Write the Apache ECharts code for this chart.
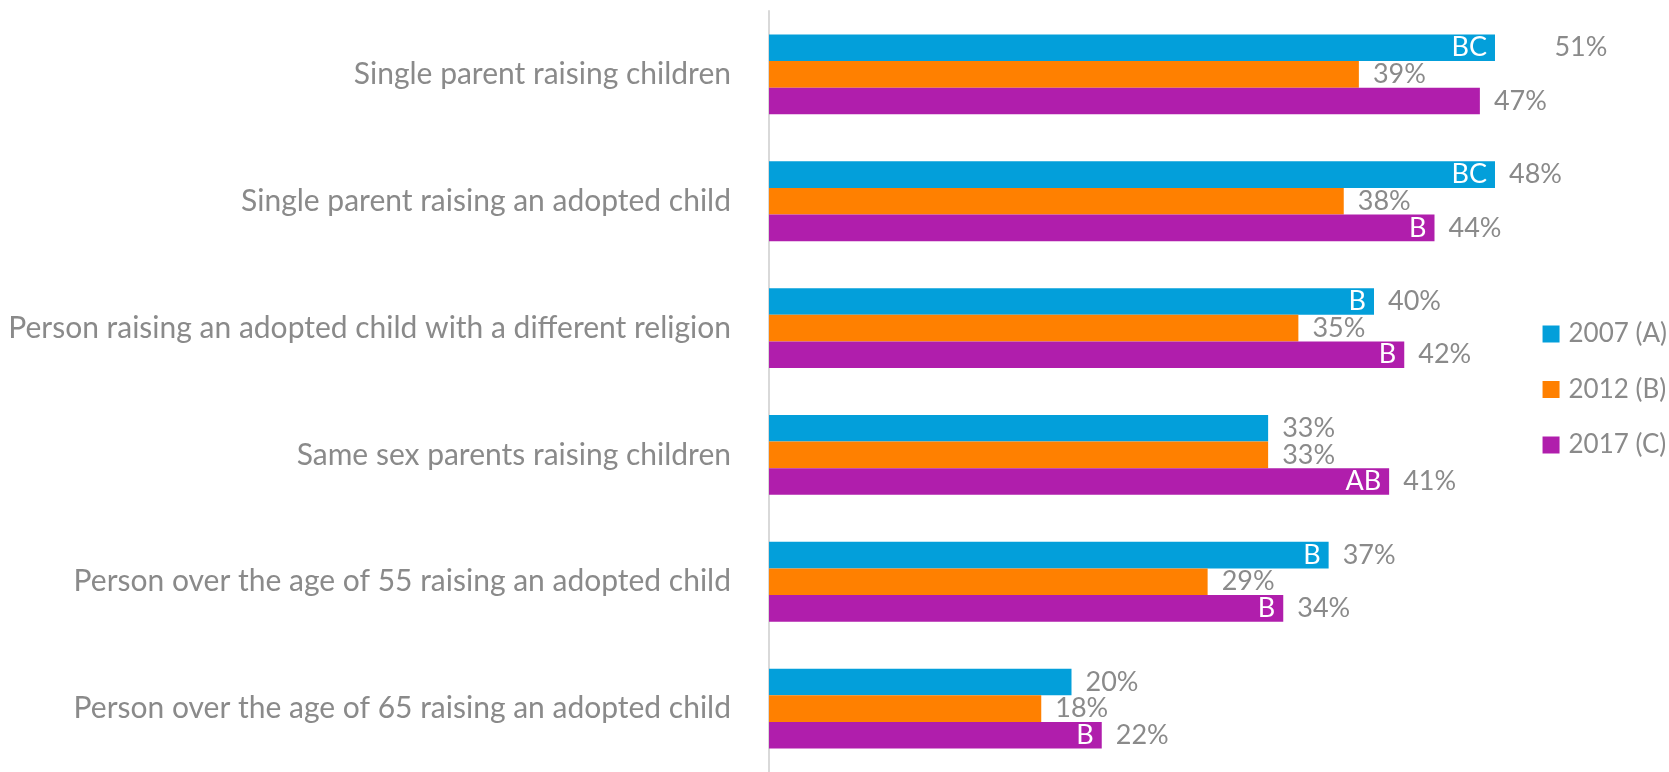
<!DOCTYPE html>
<html>
<head>
<meta charset="utf-8">
<script src="https://cdn.jsdelivr.net/npm/echarts@6/dist/echarts.min.js"></script>
<style>
  html, body { margin: 0; padding: 0; background: #fff; }
  #main { width: 1669px; height: 772px; }
</style>
</head>
<body>
<div id="main"></div>
<script>
// categories, top to bottom
var categories = [
  'Single parent raising children',
  'Single parent raising an adopted child',
  'Person raising an adopted child with a different religion',
  'Same sex parents raising children',
  'Person over the age of 55 raising an adopted child',
  'Person over the age of 65 raising an adopted child'
];
var seriesNames = ['2007 (A)', '2012 (B)', '2017 (C)'];
// percent values
var values2007 = [51, 48, 40, 33, 37, 20];
var values2012 = [39, 38, 35, 33, 29, 18];
var values2017 = [47, 44, 42, 41, 34, 22];
// significance letters shown inside bars
var sig2007 = ['BC', 'BC', 'B', '', 'B', ''];
var sig2012 = ['', '', '', '', '', ''];
var sig2017 = ['', 'B', 'B', 'AB', 'B', 'B'];
// axis max of the original chart (longest bar is cut at it)
var xMax = 0.48;

var colors = ['#039fda', '#ff8000', '#b01eac'];
var grey = '#8a8a8a';
var font = 'Lato';

var allValues = [values2007, values2012, values2017];
var allSig = [sig2007, sig2012, sig2017];

var series = [];
// visible bars with value labels
for (var i = 0; i < 3; i++) {
  (function (k) {
    series.push({
      name: seriesNames[k],
      type: 'bar',
      xAxisIndex: 0,
      yAxisIndex: 0,
      barGap: 0,
      barCategoryGap: '37%',
      itemStyle: { color: colors[k] },
      label: {
        show: true,
        position: 'right',
        distance: 14,
        color: grey,
        fontFamily: font,
        fontSize: 27,
        formatter: function (p) { return Math.round(p.value * 100) + '%'; }
      },
      // label of a cut bar sits where the full value would end
      labelLayout: function (p) {
        var v = allValues[k][p.dataIndex] / 100;
        if (v <= xMax) return {};
        return { dx: p.rect.width * (v / xMax - 1) };
      },
      data: allValues[k].map(function (v) { return v / 100; })
    });
  })(i);
}
// transparent overlay bars carrying the letters
for (var j = 0; j < 3; j++) {
  (function (k) {
    series.push({
      name: seriesNames[k] + ' sig',
      type: 'bar',
      xAxisIndex: 1,
      yAxisIndex: 1,
      barGap: 0,
      barCategoryGap: '37%',
      silent: true,
      itemStyle: { color: 'rgba(0,0,0,0)' },
      label: {
        show: true,
        position: 'insideRight',
        distance: 8,
        color: '#fff',
        fontFamily: font,
        fontSize: 27,
        formatter: function (p) { return allSig[k][p.dataIndex]; }
      },
      data: allValues[k].map(function (v) { return v / 100; })
    });
  })(j);
}

var chart = echarts.init(document.getElementById('main'));
chart.setOption({
  animation: false,
  color: colors,
  legend: {
    data: seriesNames,
    orient: 'vertical',
    right: 2,
    top: 320,
    padding: 0,
    itemWidth: 17,
    itemHeight: 17,
    itemGap: 27.5,
    icon: 'rect',
    textStyle: { color: grey, fontFamily: font, fontSize: 26, lineHeight: 28, padding: [0, 0, 0, 4] }
  },
  grid: { left: 769, top: 11, width: 726, height: 766 },
  xAxis: [
    { type: 'value', min: 0, max: xMax, show: false },
    { type: 'value', min: 0, max: xMax, show: false }
  ],
  yAxis: [
    {
      type: 'category',
      data: categories,
      inverse: true,
      axisLine: { show: true, lineStyle: { color: '#d9d9d9', width: 2 } },
      axisTick: { show: false },
      axisLabel: { color: grey, fontFamily: font, fontSize: 30, margin: 38 }
    },
    {
      type: 'category',
      data: categories,
      inverse: true,
      show: false
    }
  ],
  series: series
});
</script>
</body>
</html>
